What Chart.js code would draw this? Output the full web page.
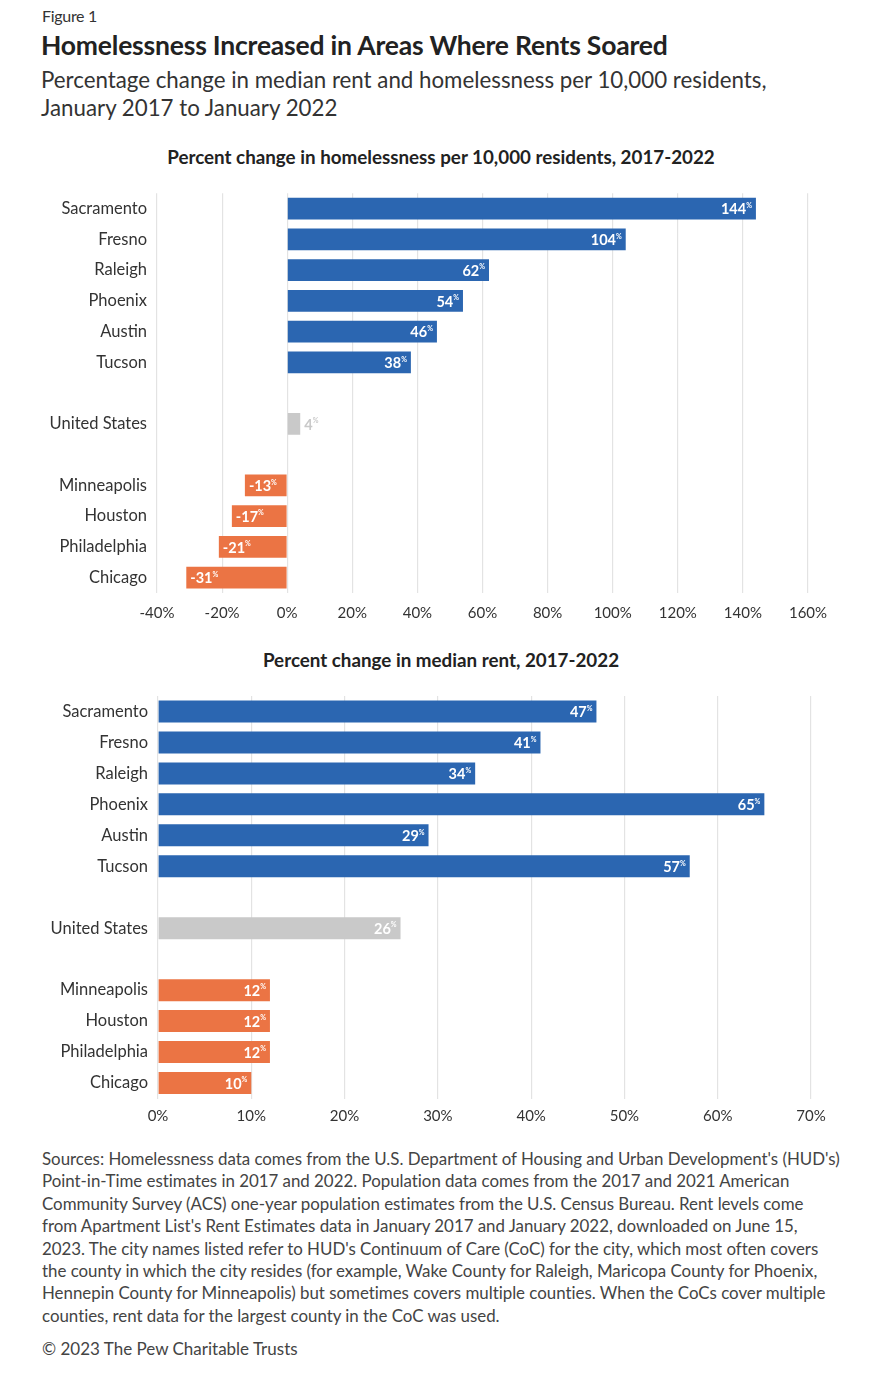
<!DOCTYPE html>
<html lang="en">
<head>
    <meta charset="UTF-8">
    <title>Homelessness Increased in Areas Where Rents Soared</title>
    <script src="https://cdn.jsdelivr.net/npm/chart.js"></script>
    <style>
        body { margin: 0; background: #fff; font-family: Lato, sans-serif; color: #222; }
        .page { position: relative; width: 887px; height: 1374px; overflow: hidden; }
        .abs { position: absolute; white-space: nowrap; }
        #fig { left: 42px; top: 6px; font-size: 16px; color: #333; letter-spacing: -0.3px; }
        #title { left: 41px; top: 29px; font-size: 26.5px; font-weight: bold; letter-spacing: -0.2px; }
        #subtitle { left: 41px; top: 66px; font-size: 22.3px; line-height: 28px; color: #333; }
        .ctitle { left: 0; width: 882px; text-align: center; font-size: 18.8px; font-weight: bold; letter-spacing: 0px; }
        #t1 { top: 145px; }
        #t2 { top: 648px; }
        .wrap { position: absolute; left: 0; width: 887px; height: 450px; }
        #w1 { top: 180px; }
        #w2 { top: 683px; }
        #notes { left: 42px; top: 1148px; font-size: 16.9px; line-height: 22.4px; color: #444; letter-spacing: -0.02px; }
        #copy { left: 42px; top: 1338px; font-size: 17px; color: #444; }
    </style>
</head>
<body>
<div class="page">
    <div id="fig" class="abs">Figure 1</div>
    <div id="title" class="abs">Homelessness Increased in Areas Where Rents Soared</div>
    <div id="subtitle" class="abs">Percentage change in median rent and homelessness per 10,000 residents,<br>January 2017 to January 2022</div>

    <div id="t1" class="abs ctitle">Percent change in homelessness per 10,000 residents, 2017-2022</div>
    <div class="wrap" id="w1"><canvas id="homelessChart"></canvas></div>

    <div id="t2" class="abs ctitle">Percent change in median rent, 2017-2022</div>
    <div class="wrap" id="w2"><canvas id="rentChart"></canvas></div>

    <div id="notes" class="abs">Sources: Homelessness data comes from the U.S. Department of Housing and Urban Development's (HUD's)<br>Point-in-Time estimates in 2017 and 2022. Population data comes from the 2017 and 2021 American<br>Community Survey (ACS) one-year population estimates from the U.S. Census Bureau. Rent levels come<br>from Apartment List's Rent Estimates data in January 2017 and January 2022, downloaded on June 15,<br>2023. The city names listed refer to HUD's Continuum of Care (CoC) for the city, which most often covers<br>the county in which the city resides (for example, Wake County for Raleigh, Maricopa County for Phoenix,<br>Hennepin County for Minneapolis) but sometimes covers multiple counties. When the CoCs cover multiple<br>counties, rent data for the largest county in the CoC was used.</div>
    <div id="copy" class="abs">© 2023 The Pew Charitable Trusts</div>
</div>

<script>
    // donnees
    const risingCities = ['Sacramento', 'Fresno', 'Raleigh', 'Phoenix', 'Austin', 'Tucson'];
    const nationLabel = ['United States'];
    const fallingCities = ['Minneapolis', 'Houston', 'Philadelphia', 'Chicago'];
    // '' = ligne vide entre les groupes
    const categories = [...risingCities, '', ...nationLabel, '', ...fallingCities];

    const homelessChange = [144, 104, 62, 54, 46, 38, null, 4, null, -13, -17, -21, -31];
    const rentChange = [47, 41, 34, 65, 29, 57, null, 26, null, 12, 12, 12, 10];

    const homelessTicks = [-40, -20, 0, 20, 40, 60, 80, 100, 120, 140, 160];
    const rentTicks = [0, 10, 20, 30, 40, 50, 60, 70];

    const BLUE = '#2b66b1';
    const ORANGE = '#eb7444';
    const GREY = '#c9c9c9';

    function barColor(name) {
        if (risingCities.includes(name)) return BLUE;
        if (fallingCities.includes(name)) return ORANGE;
        return GREY;
    }

    // etiquettes de valeur a l'interieur des barres
    const valueLabels = {
        id: 'valueLabels',
        afterDatasetsDraw(chart) {
            const ctx = chart.ctx;
            const meta = chart.getDatasetMeta(0);
            const data = chart.data.datasets[0].data;
            ctx.save();
            ctx.textBaseline = 'middle';
            meta.data.forEach((bar, i) => {
                const v = data[i];
                if (v === null) return;
                const num = String(v);
                ctx.font = 'bold 14.5px Lato';
                const wNum = ctx.measureText(num).width;
                ctx.font = 'bold 7px Lato';
                const wPct = ctx.measureText('%').width;
                const total = wNum + wPct;
                const barLen = Math.abs(bar.x - bar.base);
                let x, color = '#fff';
                if (barLen < total + 8) {
                    // trop petit : a l'exterieur
                    x = v >= 0 ? bar.x + 4 : bar.x - 4 - total;
                    color = GREY;
                } else if (v >= 0) {
                    x = bar.x - 4 - total;
                } else {
                    x = bar.x + 4;
                }
                ctx.fillStyle = color;
                ctx.font = 'bold 14.5px Lato';
                ctx.fillText(num, x, bar.y + 1);
                ctx.font = 'bold 7px Lato';
                ctx.fillText('%', x + wNum, bar.y - 3);
            });
            ctx.restore();
        }
    };

    function makeChart(id, values, ticks, pad) {
        return new Chart(document.getElementById(id), {
            type: 'bar',
            data: {
                labels: categories,
                datasets: [{
                    data: values,
                    backgroundColor: categories.map(barColor),
                    barPercentage: 0.71,
                    categoryPercentage: 1.0,
                    borderWidth: 0
                }]
            },
            options: {
                indexAxis: 'y',
                responsive: true,
                maintainAspectRatio: false,
                animation: false,
                layout: { padding: { top: pad.top, right: pad.right, left: 0, bottom: 0 } },
                plugins: { legend: { display: false }, tooltip: { enabled: false } },
                scales: {
                    x: {
                        min: ticks[0],
                        max: ticks[ticks.length - 1],
                        afterBuildTicks: (axis) => { axis.ticks = ticks.map(v => ({ value: v })); },
                        afterFit: (axis) => { axis.height = pad.axisH; axis.paddingLeft = 0; axis.paddingRight = 0; },
                        grid: { color: '#e3e3e3', lineWidth: 1.2, drawTicks: false },
                        border: { display: false },
                        ticks: {
                            padding: pad.tickPad,
                            color: '#333',
                            font: { family: 'Lato', size: 15 },
                            callback: (v) => v + '%'
                        }
                    },
                    y: {
                        afterFit: (axis) => { axis.width = pad.left; axis.paddingTop = 0; axis.paddingBottom = 0; },
                        grid: { display: false, drawTicks: false },
                        border: { display: false },
                        ticks: {
                            padding: 10,
                            color: '#333',
                            font: { family: 'Lato', size: 16.5 }
                        }
                    }
                }
            },
            plugins: [valueLabels]
        });
    }

    makeChart('homelessChart', homelessChange, homelessTicks, { top: 13.2, right: 79, left: 157, axisH: 37, tickPad: 11 });
    makeChart('rentChart', rentChange, rentTicks, { top: 13, right: 76, left: 158, axisH: 34.5, tickPad: 9 });
</script>
</body>
</html>
